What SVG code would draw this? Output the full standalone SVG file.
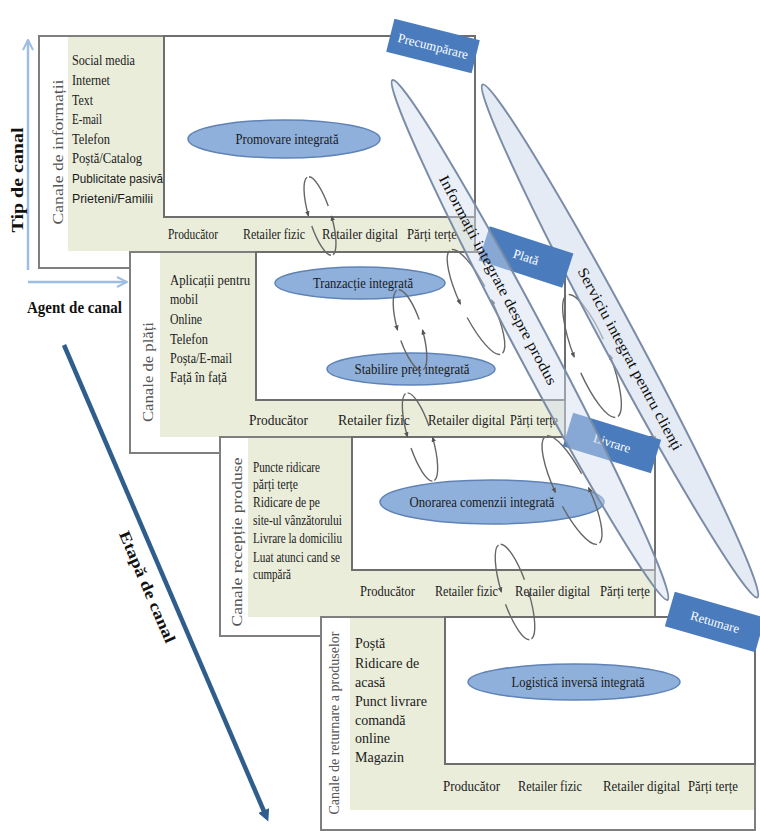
<svg xmlns="http://www.w3.org/2000/svg" width="760" height="831" viewBox="0 0 760 831">
  <style>
    .t { font-family: "Liberation Serif", "Times New Roman", serif; font-size: 14px; fill: #1a1a1a; }
    .s { font-family: "Liberation Sans", Arial, sans-serif; font-size: 12px; fill: #1a1a1a; }
    .vl { font-family: "Liberation Serif", "Times New Roman", serif; font-size: 15px; fill: #555555; text-anchor: middle; }
    .hd { font-family: "Liberation Serif", "Times New Roman", serif; font-size: 16px; font-weight: bold; fill: #111111; }
    .frame { fill: #ffffff; stroke: #7f7f7f; stroke-width: 2; }
    .beige { fill: #eaedda; }
    .inner { fill: #ffffff; stroke: #6e6e6e; stroke-width: 2; }
    .oval { fill: #8fb0da; stroke: #5f83b7; stroke-width: 1.5; }
    .ovt { font-family: "Liberation Serif", "Times New Roman", serif; font-size: 14px; fill: #1a1a1a; text-anchor: middle; }
    .lab { fill: #4a7cbd; }
    .labt { font-family: "Liberation Serif", "Times New Roman", serif; font-size: 13px; fill: #ffffff; text-anchor: middle; }
    .big { fill: #d3ddef; fill-opacity: 0.6; stroke: #7a8ca6; stroke-width: 2; }
    .big.over { fill-opacity: 0.45; }
    .bigt { font-family: "Liberation Serif", "Times New Roman", serif; font-size: 15px; fill: #111111; text-anchor: middle; }
    .loop { fill: none; stroke: #666666; stroke-width: 1.4; }
    .axis { fill: none; stroke: #9dbde2; stroke-width: 2.5; }
  </style>
  <defs>
    <marker id="chev" viewBox="0 0 10 10" refX="9" refY="5" markerWidth="5" markerHeight="5" orient="auto" markerUnits="strokeWidth">
      <polyline points="1,1 9,5 1,9" fill="none" stroke="#9dbde2" stroke-width="1.6"/>
    </marker>
    <marker id="stage" viewBox="0 0 10 10" refX="5" refY="5" markerWidth="3" markerHeight="2.6" orient="auto" markerUnits="strokeWidth">
      <path d="M0,0 L10,5 L0,10 z" fill="#2f5d8c"/>
    </marker>
    <marker id="tip" viewBox="0 0 10 10" refX="8" refY="5" markerWidth="4" markerHeight="4" orient="auto" markerUnits="strokeWidth">
      <path d="M0,1 L10,5 L0,9 z" fill="#555555"/>
    </marker>
  </defs>

  <!-- axes -->
  <g id="axes">
    <line class="axis" x1="28" y1="270" x2="28" y2="40" marker-end="url(#chev)"/>
    <line class="axis" x1="28" y1="282" x2="127" y2="282" marker-end="url(#chev)"/>
    <text class="hd" x="23" y="180" text-anchor="middle" textLength="105" lengthAdjust="spacingAndGlyphs" transform="rotate(-90 23 180)">Tip de canal</text>
    <text class="hd" x="27" y="313" font-size="15" textLength="95" lengthAdjust="spacingAndGlyphs">Agent de canal</text>
    <line x1="64" y1="345" x2="266" y2="816" stroke="#2f5d8c" stroke-width="4.5" marker-end="url(#stage)"/>
    <text class="hd" x="142.4" y="589" font-size="15" text-anchor="middle" textLength="120" lengthAdjust="spacingAndGlyphs" transform="rotate(66.8 142.4 589)">Etapă de canal</text>
  </g>

  <!-- panel 1: information channels -->
  <g id="panel-info">
    <rect class="frame" x="39" y="36" width="436" height="232"/>
    <rect class="beige" x="68" y="37" width="406" height="214"/>
    <rect class="inner" x="164" y="36" width="311" height="181"/>
    <text class="vl" x="63" y="152" textLength="145" lengthAdjust="spacingAndGlyphs" transform="rotate(-90 63 152)">Canale de informații</text>
    <text class="t" x="72" y="65" textLength="63" lengthAdjust="spacingAndGlyphs">Social media</text>
    <text class="t" x="72" y="85" textLength="38" lengthAdjust="spacingAndGlyphs">Internet</text>
    <text class="t" x="72" y="105" textLength="21" lengthAdjust="spacingAndGlyphs">Text</text>
    <text class="t" x="72" y="124" textLength="30" lengthAdjust="spacingAndGlyphs">E-mail</text>
    <text class="t" x="72" y="144" textLength="38" lengthAdjust="spacingAndGlyphs">Telefon</text>
    <text class="t" x="72" y="163" textLength="70" lengthAdjust="spacingAndGlyphs">Poștă/Catalog</text>
    <text class="s" x="72" y="183" textLength="91" lengthAdjust="spacingAndGlyphs">Publicitate pasivă</text>
    <text class="s" x="72" y="203" textLength="81" lengthAdjust="spacingAndGlyphs">Prieteni/Familii</text>
    <text class="t" x="168" y="239" font-size="13" textLength="50" lengthAdjust="spacingAndGlyphs">Producător</text>
    <text class="t" x="243" y="239" font-size="13" textLength="62" lengthAdjust="spacingAndGlyphs">Retailer fizic</text>
    <text class="t" x="322" y="239" font-size="13" textLength="76" lengthAdjust="spacingAndGlyphs">Retailer digital</text>
    <text class="t" x="407" y="239" font-size="13" textLength="50" lengthAdjust="spacingAndGlyphs">Părți terțe</text>
    <ellipse class="oval" cx="284" cy="139" rx="96" ry="19"/>
    <text class="ovt" x="287" y="143.5" textLength="103" lengthAdjust="spacingAndGlyphs">Promovare integrată</text>
  </g>

  <!-- panel 2: payment channels -->
  <g id="panel-pay">
    <rect class="frame" x="130" y="252" width="435" height="201"/>
    <rect class="beige" x="160" y="253" width="404" height="184"/>
    <rect class="inner" x="256" y="252" width="309" height="148"/>
    <text class="vl" x="153" y="372" textLength="100" lengthAdjust="spacingAndGlyphs" transform="rotate(-90 153 372)">Canale  de plăți</text>
    <text class="t" x="170" y="285" textLength="80" lengthAdjust="spacingAndGlyphs">Aplicații pentru</text>
    <text class="t" x="170" y="304" textLength="28" lengthAdjust="spacingAndGlyphs">mobil</text>
    <text class="t" x="170" y="324" textLength="32" lengthAdjust="spacingAndGlyphs">Online</text>
    <text class="t" x="170" y="344" textLength="38" lengthAdjust="spacingAndGlyphs">Telefon</text>
    <text class="t" x="170" y="363" textLength="62" lengthAdjust="spacingAndGlyphs">Poșta/E-mail</text>
    <text class="t" x="170" y="382" textLength="57" lengthAdjust="spacingAndGlyphs">Față în față</text>
    <text class="t" x="249" y="425" textLength="59" lengthAdjust="spacingAndGlyphs">Producător</text>
    <text class="t" x="338" y="425" textLength="72" lengthAdjust="spacingAndGlyphs">Retailer fizic</text>
    <text class="t" x="428" y="425" textLength="77" lengthAdjust="spacingAndGlyphs">Retailer digital</text>
    <text class="t" x="510" y="425" textLength="48" lengthAdjust="spacingAndGlyphs">Părți terțe</text>
    <ellipse class="oval" cx="360" cy="283" rx="85" ry="16"/>
    <text class="ovt" x="363" y="287.5" textLength="100" lengthAdjust="spacingAndGlyphs">Tranzacție integrată</text>
    <ellipse class="oval" cx="411" cy="369" rx="84" ry="16"/>
    <text class="ovt" x="412" y="373.5" textLength="115" lengthAdjust="spacingAndGlyphs">Stabilire preț integrată</text>
  </g>

  <!-- panel 3: product receipt channels -->
  <g id="panel-receipt">
    <rect class="frame" x="220" y="437" width="435" height="199"/>
    <rect class="beige" x="248" y="438" width="406" height="179"/>
    <rect class="inner" x="352" y="437" width="303" height="133"/>
    <text class="vl" x="242" y="542" textLength="169" lengthAdjust="spacingAndGlyphs" transform="rotate(-90 242 542)">Canale recepție produse</text>
    <text class="t" x="253" y="472" font-size="13" textLength="67" lengthAdjust="spacingAndGlyphs">Puncte ridicare</text>
    <text class="t" x="253" y="489" font-size="13" textLength="45" lengthAdjust="spacingAndGlyphs">părți terțe</text>
    <text class="t" x="253" y="507" font-size="13" textLength="67" lengthAdjust="spacingAndGlyphs">Ridicare  de pe</text>
    <text class="t" x="253" y="525" font-size="13" textLength="89" lengthAdjust="spacingAndGlyphs">site-ul vânzătorului</text>
    <text class="t" x="253" y="543" font-size="13" textLength="89" lengthAdjust="spacingAndGlyphs">Livrare la domiciliu</text>
    <text class="t" x="253" y="562" font-size="13" textLength="87" lengthAdjust="spacingAndGlyphs">Luat atunci cand se</text>
    <text class="t" x="253" y="579" font-size="13" textLength="38" lengthAdjust="spacingAndGlyphs">cumpără</text>
    <text class="t" x="360" y="596" textLength="55" lengthAdjust="spacingAndGlyphs">Producător</text>
    <text class="t" x="435" y="596" textLength="63" lengthAdjust="spacingAndGlyphs">Retailer fizic</text>
    <text class="t" x="515" y="596" textLength="75" lengthAdjust="spacingAndGlyphs">Retailer digital</text>
    <text class="t" x="600" y="596" textLength="50" lengthAdjust="spacingAndGlyphs">Părți terțe</text>
    <ellipse class="oval" cx="492" cy="502" rx="112" ry="22"/>
    <text class="ovt" x="482" y="506.5" textLength="145" lengthAdjust="spacingAndGlyphs">Onorarea comenzii integrată</text>
  </g>

  <!-- panel 4: product return channels -->
  <g id="panel-return">
    <rect class="frame" x="321" y="617" width="434" height="213"/>
    <rect class="beige" x="350" y="618" width="404" height="192"/>
    <rect class="inner" x="445" y="617" width="310" height="147"/>
    <text class="vl" x="339" y="723" font-size="11.5" textLength="183" lengthAdjust="spacingAndGlyphs" transform="rotate(-90 339 723)">Canale de  returnare a produselor</text>
    <text class="t" x="355" y="648" font-size="13">Poștă</text>
    <text class="t" x="355" y="668" font-size="13">Ridicare  de</text>
    <text class="t" x="355" y="687" font-size="13">acasă</text>
    <text class="t" x="355" y="706" font-size="13">Punct livrare</text>
    <text class="t" x="355" y="725" font-size="13">comandă</text>
    <text class="t" x="355" y="743" font-size="13">online</text>
    <text class="t" x="355" y="762" font-size="13">Magazin</text>
    <text class="t" x="443" y="791" textLength="57" lengthAdjust="spacingAndGlyphs">Producător</text>
    <text class="t" x="518" y="791" textLength="64" lengthAdjust="spacingAndGlyphs">Retailer fizic</text>
    <text class="t" x="603" y="791" textLength="77" lengthAdjust="spacingAndGlyphs">Retailer  digital</text>
    <text class="t" x="688" y="791" textLength="50" lengthAdjust="spacingAndGlyphs">Părți terțe</text>
    <ellipse class="oval" cx="574" cy="682" rx="106" ry="18"/>
    <text class="ovt" x="578" y="686.5" textLength="133" lengthAdjust="spacingAndGlyphs">Logistică inversă integrată</text>
  </g>

  <!-- feedback loops between the integrated processes -->
  <g id="connectors">
    <g transform="translate(320 216) rotate(-17)">
      <path class="loop" d="M-1,-40.8 A11 41 0 0 0 -11,-3.6" marker-end="url(#tip)"/>
      <path class="loop" d="M-10.8,7.1 A11 41 0 0 0 -1,40.8"/>
      <path class="loop" d="M1,40.8 A11 41 0 0 0 11,3.6" marker-end="url(#tip)"/>
      <path class="loop" d="M10.8,-7.1 A11 41 0 0 0 1,-40.8"/>
    </g>
    <g transform="translate(410 330) rotate(-17)">
      <path class="loop" d="M-1.05,-41.84 A12 42 0 0 0 -11.95,-3.66" marker-end="url(#tip)"/>
      <path class="loop" d="M-11.82,7.29 A12 42 0 0 0 -1.05,41.84"/>
      <path class="loop" d="M1.05,41.84 A12 42 0 0 0 11.95,3.66" marker-end="url(#tip)"/>
      <path class="loop" d="M11.82,-7.29 A12 42 0 0 0 1.05,-41.84"/>
    </g>
    <g transform="translate(476 302) rotate(-26)">
      <path class="loop" d="M-1.31,-57.78 A15 58 0 0 0 -14.94,-5.06" marker-end="url(#tip)"/>
      <path class="loop" d="M-14.77,10.07 A15 58 0 0 0 -1.31,57.78"/>
      <path class="loop" d="M1.31,57.78 A15 58 0 0 0 14.94,5.06" marker-end="url(#tip)"/>
      <path class="loop" d="M14.77,-10.07 A15 58 0 0 0 1.31,-57.78"/>
    </g>
    <g transform="translate(420 437) rotate(-17)">
      <path class="loop" d="M-1.05,-45.83 A12 46 0 0 0 -11.95,-4.01" marker-end="url(#tip)"/>
      <path class="loop" d="M-11.82,7.99 A12 46 0 0 0 -1.05,45.83"/>
      <path class="loop" d="M1.05,45.83 A12 46 0 0 0 11.95,4.01" marker-end="url(#tip)"/>
      <path class="loop" d="M11.82,-7.99 A12 46 0 0 0 1.05,-45.83"/>
    </g>
    <g transform="translate(592 356) rotate(-22)">
      <path class="loop" d="M-1.48,-65.75 A17 66 0 0 0 -16.94,-5.76" marker-end="url(#tip)"/>
      <path class="loop" d="M-16.74,11.46 A17 66 0 0 0 -1.48,65.75"/>
      <path class="loop" d="M1.48,65.75 A17 66 0 0 0 16.94,5.76" marker-end="url(#tip)"/>
      <path class="loop" d="M16.74,-11.46 A17 66 0 0 0 1.48,-65.75"/>
    </g>
    <g transform="translate(572 490) rotate(-26)">
      <path class="loop" d="M-1.4,-59.77 A16 60 0 0 0 -15.94,-5.23" marker-end="url(#tip)"/>
      <path class="loop" d="M-15.76,10.42 A16 60 0 0 0 -1.4,59.77"/>
      <path class="loop" d="M1.4,59.77 A16 60 0 0 0 15.94,5.23" marker-end="url(#tip)"/>
      <path class="loop" d="M15.76,-10.42 A16 60 0 0 0 1.4,-59.77"/>
    </g>
    <g transform="translate(515 592) rotate(-18)">
      <path class="loop" d="M-1.13,-49.81 A13 50 0 0 0 -12.95,-4.36" marker-end="url(#tip)"/>
      <path class="loop" d="M-12.8,8.68 A13 50 0 0 0 -1.13,49.81"/>
      <path class="loop" d="M1.13,49.81 A13 50 0 0 0 12.95,4.36" marker-end="url(#tip)"/>
      <path class="loop" d="M12.8,-8.68 A13 50 0 0 0 1.13,-49.81"/>
    </g>
  </g>

  <!-- customer service band sits beneath the stage labels -->
  <g id="band-service">
    <ellipse class="big" cx="620" cy="341" rx="291" ry="17" transform="rotate(61.8 620 341)"/>
    <text class="bigt" x="625.6" y="361.3" textLength="205" lengthAdjust="spacingAndGlyphs" transform="rotate(61.8 625.6 361.3)">Serviciu integrat pentru clienți</text>
  </g>

  <!-- stage labels -->
  <g id="stage-precumparare" transform="translate(433 46) rotate(14)">
    <rect class="lab" x="-44" y="-17" width="88" height="34"/>
    <text class="labt" x="0" y="4.5">Precumpărare</text>
  </g>
  <g id="stage-plata" transform="translate(526 257) rotate(18)">
    <rect class="lab" x="-44" y="-18" width="88" height="36"/>
    <text class="labt" x="0" y="4.5">Plată</text>
  </g>
  <g id="stage-livrare" transform="translate(612 443) rotate(17)">
    <rect class="lab" x="-46" y="-17.5" width="92" height="35"/>
    <text class="labt" x="0" y="4.5">Livrare</text>
  </g>
  <g id="stage-retumare" transform="translate(715 622) rotate(16)">
    <rect class="lab" x="-47" y="-18" width="94" height="36"/>
    <text class="labt" x="0" y="4.5">Retumare</text>
  </g>

  <!-- product information band drawn over the labels -->
  <g id="band-info">
    <ellipse class="big over" cx="530" cy="340" rx="294" ry="17" transform="rotate(62.1 530 340)"/>
    <text class="bigt" x="493.6" y="282.3" textLength="235" lengthAdjust="spacingAndGlyphs" transform="rotate(62.1 493.6 282.3)">Informații integrate despre produs</text>
  </g>
</svg>
